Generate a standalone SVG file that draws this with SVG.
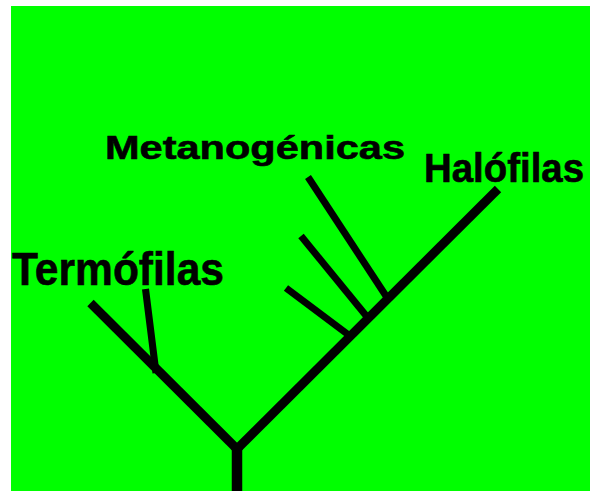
<svg xmlns="http://www.w3.org/2000/svg" width="590" height="491" viewBox="0 0 590 491">
  <style>
    .lbl { font-family: "Liberation Sans", Arial, sans-serif; font-weight: bold; fill: #000; stroke: #000; stroke-width: 0.6; }
    .br { stroke: #000; fill: none; stroke-linecap: butt; }
  </style>
  <rect x="0" y="0" width="590" height="491" fill="#ffffff"/>
  <rect x="11" y="6" width="579" height="485" fill="#00ff00"/>
  <g id="connectors">
    <line class="br" x1="237" y1="449" x2="237" y2="491" stroke-width="10.5"/>
    <line class="br" x1="90.5" y1="303" x2="240" y2="452" stroke-width="9"/>
    <line class="br" x1="234" y1="452" x2="498" y2="189" stroke-width="9"/>
    <line class="br" x1="145.5" y1="289" x2="156" y2="373" stroke-width="7"/>
    <line class="br" x1="308" y1="177" x2="388" y2="299" stroke-width="7"/>
    <line class="br" x1="301" y1="236" x2="368" y2="318" stroke-width="7"/>
    <line class="br" x1="286" y1="288" x2="350" y2="336" stroke-width="7"/>
  </g>
  <g id="termofilas">
    <text class="lbl" x="12" y="285" font-size="46" textLength="212" lengthAdjust="spacingAndGlyphs">Termófilas</text>
  </g>
  <g id="metanogenicas">
    <text class="lbl" x="105" y="159" font-size="34" textLength="300" lengthAdjust="spacingAndGlyphs">Metanogénicas</text>
  </g>
  <g id="halofilas">
    <text class="lbl" transform="translate(424,182) scale(1,1.06)" x="0" y="0" font-size="39" textLength="160" lengthAdjust="spacingAndGlyphs">Halófilas</text>
  </g>
</svg>
